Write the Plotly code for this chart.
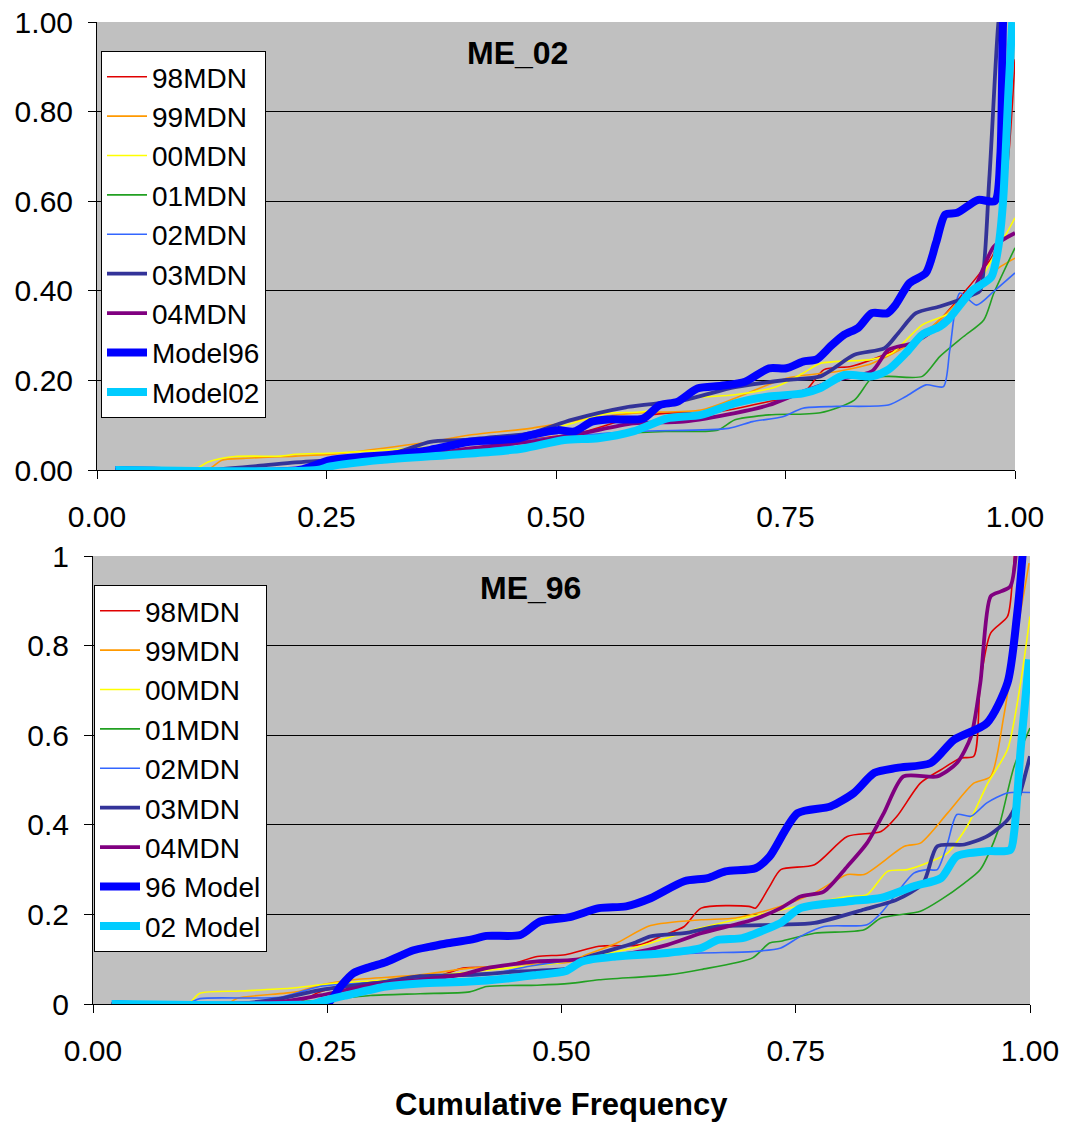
import plotly.graph_objects as go

# ---------------- data: ME_02 (top panel) ----------------
ME02_98_X = [0.02, 0.20, 0.25, 0.30, 0.35, 0.40, 0.45, 0.472, 0.53, 0.58, 0.621, 0.676, 0.732, 0.769, 0.792, 0.821, 0.844, 0.862, 0.892, 0.918, 0.944, 0.962, 0.977, 0.992, 1.0]
ME02_98_Y = [0, 0, 0.01, 0.02, 0.03, 0.04, 0.055, 0.067, 0.085, 0.115, 0.127, 0.13, 0.153, 0.171, 0.224, 0.231, 0.246, 0.261, 0.29, 0.335, 0.395, 0.44, 0.484, 0.678, 0.917]

ME02_99_X = [0.02, 0.12, 0.136, 0.16, 0.216, 0.26, 0.363, 0.406, 0.472, 0.528, 0.584, 0.658, 0.695, 0.751, 0.806, 0.844, 0.881, 0.918, 0.945, 0.96, 0.985, 1.0]
ME02_99_Y = [0, 0, 0.022, 0.026, 0.031, 0.036, 0.063, 0.078, 0.093, 0.112, 0.127, 0.134, 0.160, 0.205, 0.22, 0.238, 0.276, 0.335, 0.39, 0.415, 0.455, 0.473]

ME02_00_X = [0.02, 0.105, 0.121, 0.15, 0.20, 0.216, 0.26, 0.34, 0.40, 0.472, 0.517, 0.558, 0.595, 0.647, 0.695, 0.74, 0.769, 0.788, 0.844, 0.866, 0.899, 0.929, 0.955, 0.985, 1.0]
ME02_00_Y = [0, 0, 0.018, 0.03, 0.031, 0.035, 0.038, 0.048, 0.058, 0.082, 0.104, 0.127, 0.130, 0.160, 0.168, 0.186, 0.216, 0.238, 0.247, 0.261, 0.324, 0.35, 0.402, 0.507, 0.563]

ME02_01_X = [0.02, 0.18, 0.22, 0.30, 0.40, 0.472, 0.546, 0.621, 0.676, 0.695, 0.732, 0.788, 0.825, 0.844, 0.862, 0.899, 0.918, 0.944, 0.966, 0.977, 1.0]
ME02_01_Y = [0, 0, 0.005, 0.015, 0.035, 0.056, 0.078, 0.086, 0.089, 0.112, 0.123, 0.128, 0.156, 0.205, 0.209, 0.209, 0.253, 0.298, 0.335, 0.395, 0.496]

ME02_02_X = [0.02, 0.18, 0.25, 0.35, 0.45, 0.472, 0.584, 0.688, 0.714, 0.747, 0.769, 0.806, 0.862, 0.881, 0.903, 0.922, 0.929, 0.94, 0.958, 0.977, 1.0]
ME02_02_Y = [0, 0, 0.01, 0.03, 0.055, 0.067, 0.086, 0.093, 0.108, 0.119, 0.138, 0.142, 0.145, 0.164, 0.19, 0.186, 0.268, 0.395, 0.368, 0.399, 0.44]

ME02_03_X = [0.02, 0.12, 0.175, 0.216, 0.26, 0.327, 0.363, 0.399, 0.435, 0.472, 0.517, 0.576, 0.639, 0.695, 0.751, 0.788, 0.825, 0.858, 0.873, 0.892, 0.918, 0.940, 0.955, 0.962, 0.972, 0.982, 0.986]
ME02_03_Y = [0, 0, 0.009, 0.017, 0.023, 0.04, 0.063, 0.067, 0.074, 0.082, 0.112, 0.140, 0.156, 0.185, 0.201, 0.209, 0.257, 0.272, 0.306, 0.35, 0.365, 0.38, 0.392, 0.40, 0.65, 1.0, 1.05]

ME02_04_X = [0.02, 0.20, 0.26, 0.345, 0.406, 0.457, 0.472, 0.528, 0.584, 0.639, 0.695, 0.732, 0.769, 0.806, 0.844, 0.862, 0.888, 0.907, 0.936, 0.955, 0.977, 1.0]
ME02_04_Y = [0, 0, 0.01, 0.03, 0.048, 0.06, 0.063, 0.082, 0.104, 0.108, 0.127, 0.145, 0.175, 0.201, 0.22, 0.268, 0.283, 0.306, 0.358, 0.402, 0.499, 0.529]

ME02_M96_X = [0.02, 0.22, 0.254, 0.327, 0.363, 0.406, 0.457, 0.472, 0.502, 0.520, 0.539, 0.558, 0.595, 0.613, 0.632, 0.654, 0.680, 0.706, 0.732, 0.751, 0.769, 0.784, 0.799, 0.814, 0.829, 0.844, 0.861, 0.870, 0.885, 0.903, 0.914, 0.924, 0.937, 0.960, 0.978, 0.984, 0.987, 0.99]
ME02_M96_Y = [0, 0, 0.022, 0.035, 0.045, 0.063, 0.07, 0.078, 0.089, 0.086, 0.108, 0.113, 0.115, 0.145, 0.152, 0.182, 0.188, 0.197, 0.227, 0.227, 0.242, 0.247, 0.276, 0.302, 0.317, 0.350, 0.350, 0.369, 0.417, 0.440, 0.507, 0.570, 0.574, 0.603, 0.60, 0.70, 1.0, 1.1]

ME02_M02_X = [0.02, 0.24, 0.254, 0.308, 0.381, 0.428, 0.464, 0.509, 0.546, 0.584, 0.621, 0.658, 0.695, 0.732, 0.769, 0.788, 0.814, 0.844, 0.862, 0.881, 0.899, 0.918, 0.927, 0.953, 0.974, 0.982, 0.987, 0.993, 0.997]
ME02_M02_Y = [0, 0, 0.008, 0.022, 0.033, 0.04, 0.048, 0.067, 0.071, 0.086, 0.115, 0.123, 0.149, 0.164, 0.171, 0.183, 0.212, 0.209, 0.224, 0.261, 0.302, 0.32, 0.335, 0.40, 0.43, 0.50, 0.60, 0.85, 1.0]

# ---------------- data: ME_96 (bottom panel) ----------------
ME96_98_X = [0.02, 0.22, 0.242, 0.313, 0.367, 0.395, 0.438, 0.474, 0.504, 0.54, 0.584, 0.606, 0.631, 0.649, 0.70, 0.707, 0.722, 0.734, 0.77, 0.805, 0.841, 0.858, 0.883, 0.905, 0.926, 0.94, 0.947, 0.958, 0.976, 0.981, 0.985]
ME96_98_Y = [0, 0.005, 0.027, 0.054, 0.062, 0.080, 0.084, 0.106, 0.11, 0.129, 0.132, 0.151, 0.173, 0.214, 0.218, 0.214, 0.262, 0.30, 0.311, 0.374, 0.385, 0.419, 0.493, 0.523, 0.549, 0.553, 0.717, 0.828, 0.865, 0.94, 1.05]

ME96_99_X = [0.02, 0.143, 0.154, 0.217, 0.242, 0.278, 0.349, 0.402, 0.448, 0.509, 0.522, 0.558, 0.595, 0.649, 0.686, 0.734, 0.77, 0.805, 0.823, 0.866, 0.883, 0.912, 0.94, 0.958, 0.972, 0.986, 0.999]
ME96_99_Y = [0, 0, 0.013, 0.027, 0.042, 0.054, 0.065, 0.08, 0.087, 0.094, 0.106, 0.135, 0.175, 0.188, 0.192, 0.218, 0.248, 0.289, 0.289, 0.352, 0.359, 0.426, 0.493, 0.508, 0.642, 0.828, 0.984]

ME96_00_X = [0.02, 0.101, 0.114, 0.157, 0.21, 0.253, 0.313, 0.385, 0.442, 0.498, 0.576, 0.649, 0.734, 0.805, 0.826, 0.848, 0.869, 0.894, 0.912, 0.933, 0.955, 0.976, 0.99, 1.0]
ME96_00_Y = [0, 0, 0.024, 0.029, 0.035, 0.045, 0.054, 0.068, 0.08, 0.092, 0.125, 0.17, 0.21, 0.24, 0.244, 0.296, 0.30, 0.318, 0.337, 0.397, 0.493, 0.568, 0.717, 0.865]

ME96_01_X = [0.02, 0.22, 0.242, 0.296, 0.349, 0.402, 0.42, 0.474, 0.509, 0.54, 0.613, 0.649, 0.704, 0.722, 0.734, 0.77, 0.823, 0.841, 0.883, 0.905, 0.93, 0.947, 0.965, 0.983, 1.0]
ME96_01_Y = [0, 0.005, 0.008, 0.019, 0.023, 0.027, 0.039, 0.042, 0.046, 0.054, 0.065, 0.077, 0.103, 0.136, 0.14, 0.158, 0.166, 0.192, 0.207, 0.233, 0.27, 0.30, 0.382, 0.53, 0.616]

ME96_02_X = [0.02, 0.10, 0.114, 0.20, 0.242, 0.313, 0.367, 0.42, 0.467, 0.54, 0.649, 0.704, 0.734, 0.755, 0.78, 0.826, 0.841, 0.876, 0.89, 0.901, 0.912, 0.922, 0.937, 0.954, 0.976, 1.0]
ME96_02_Y = [0, 0, 0.012, 0.015, 0.039, 0.05, 0.062, 0.065, 0.085, 0.103, 0.114, 0.117, 0.125, 0.151, 0.173, 0.177, 0.203, 0.292, 0.30, 0.30, 0.359, 0.423, 0.419, 0.449, 0.471, 0.472]

ME96_03_X = [0.02, 0.15, 0.2, 0.242, 0.313, 0.349, 0.402, 0.456, 0.509, 0.522, 0.576, 0.595, 0.631, 0.667, 0.734, 0.77, 0.823, 0.858, 0.886, 0.901, 0.93, 0.954, 0.976, 0.986, 1.0]
ME96_03_Y = [0, 0, 0.012, 0.031, 0.05, 0.062, 0.065, 0.073, 0.08, 0.10, 0.135, 0.151, 0.158, 0.173, 0.177, 0.181, 0.211, 0.233, 0.27, 0.352, 0.356, 0.374, 0.411, 0.449, 0.553]

ME96_04_X = [0.02, 0.20, 0.242, 0.296, 0.349, 0.392, 0.42, 0.474, 0.509, 0.576, 0.613, 0.649, 0.704, 0.734, 0.755, 0.78, 0.805, 0.826, 0.844, 0.865, 0.901, 0.922, 0.937, 0.947, 0.958, 0.969, 0.979, 0.986]
ME96_04_Y = [0, 0.005, 0.019, 0.042, 0.054, 0.065, 0.08, 0.095, 0.098, 0.114, 0.132, 0.158, 0.188, 0.214, 0.24, 0.251, 0.307, 0.359, 0.426, 0.508, 0.508, 0.538, 0.597, 0.717, 0.91, 0.921, 0.932, 1.03]

ME96_M96_X = [0.02, 0.249, 0.264, 0.278, 0.296, 0.313, 0.342, 0.36, 0.377, 0.402, 0.42, 0.456, 0.477, 0.509, 0.54, 0.569, 0.595, 0.631, 0.656, 0.675, 0.707, 0.722, 0.752, 0.787, 0.812, 0.834, 0.858, 0.894, 0.919, 0.954, 0.976, 0.986, 0.992, 0.995]
ME96_M96_Y = [0, 0, 0.039, 0.069, 0.083, 0.094, 0.12, 0.128, 0.135, 0.143, 0.152, 0.154, 0.184, 0.194, 0.214, 0.218, 0.236, 0.274, 0.281, 0.296, 0.303, 0.329, 0.426, 0.441, 0.471, 0.516, 0.527, 0.538, 0.59, 0.627, 0.717, 0.865, 1.0, 1.1]

ME96_M02_X = [0.02, 0.235, 0.242, 0.27, 0.313, 0.349, 0.402, 0.442, 0.474, 0.504, 0.522, 0.558, 0.613, 0.649, 0.667, 0.693, 0.722, 0.734, 0.755, 0.805, 0.841, 0.876, 0.905, 0.922, 0.954, 0.979, 0.983, 0.99, 0.999]
ME96_M02_Y = [0, 0, 0.005, 0.019, 0.039, 0.046, 0.05, 0.057, 0.065, 0.073, 0.095, 0.106, 0.114, 0.125, 0.143, 0.147, 0.17, 0.181, 0.214, 0.229, 0.237, 0.263, 0.281, 0.33, 0.341, 0.344, 0.382, 0.568, 0.769]

TOP_NAMES = ["98MDN", "99MDN", "00MDN", "01MDN", "02MDN", "03MDN", "04MDN", "Model96", "Model02"]
BOTTOM_NAMES = ["98MDN", "99MDN", "00MDN", "01MDN", "02MDN", "03MDN", "04MDN", "96 Model", "02 Model"]

X_TICKVALS = [0, 0.25, 0.5, 0.75, 1.0]
X_TICKTEXT = ["0.00", "0.25", "0.50", "0.75", "1.00"]
Y_TICKVALS = [0, 0.2, 0.4, 0.6, 0.8, 1.0]
TOP_Y_TICKTEXT = ["0.00", "0.20", "0.40", "0.60", "0.80", "1.00"]
BOTTOM_Y_TICKTEXT = ["0", "0.2", "0.4", "0.6", "0.8", "1"]

COLORS = ["#E00000", "#FF9900", "#FFFF00", "#22A022", "#3366FF", "#333399", "#800080", "#0000FF", "#00CCFF"]
WIDTHS = [1.6, 1.6, 1.6, 1.6, 1.6, 3.8, 3.8, 8, 8]

top_series = [(ME02_98_X, ME02_98_Y), (ME02_99_X, ME02_99_Y), (ME02_00_X, ME02_00_Y),
              (ME02_01_X, ME02_01_Y), (ME02_02_X, ME02_02_Y), (ME02_03_X, ME02_03_Y),
              (ME02_04_X, ME02_04_Y), (ME02_M96_X, ME02_M96_Y), (ME02_M02_X, ME02_M02_Y)]
bottom_series = [(ME96_98_X, ME96_98_Y), (ME96_99_X, ME96_99_Y), (ME96_00_X, ME96_00_Y),
                 (ME96_01_X, ME96_01_Y), (ME96_02_X, ME96_02_Y), (ME96_03_X, ME96_03_Y),
                 (ME96_04_X, ME96_04_Y), (ME96_M96_X, ME96_M96_Y), (ME96_M02_X, ME96_M02_Y)]

FONT = "Liberation Sans, Arial, sans-serif"
W, H = 1065, 1122

fig = go.Figure()
for i, (xs, ys) in enumerate(top_series):
    fig.add_trace(go.Scatter(x=xs, y=ys, mode="lines", name=TOP_NAMES[i],
                             line=dict(color=COLORS[i], width=WIDTHS[i], shape="spline", smoothing=0.7),
                             xaxis="x", yaxis="y", legend="legend"))
for i, (xs, ys) in enumerate(bottom_series):
    fig.add_trace(go.Scatter(x=xs, y=ys, mode="lines", name=BOTTOM_NAMES[i],
                             line=dict(color=COLORS[i], width=WIDTHS[i], shape="spline", smoothing=0.7),
                             xaxis="x2", yaxis="y2", legend="legend2"))

def xaxis_cfg(domain, anchor):
    return dict(domain=domain, anchor=anchor, range=[0, 1], tickvals=X_TICKVALS, ticktext=X_TICKTEXT,
                ticks="outside", ticklen=8, tickcolor="#000", tickwidth=1,
                showline=True, linecolor="#000", linewidth=1, showgrid=False, zeroline=False,
                tickfont=dict(family=FONT, size=30, color="#000"), ticklabelstandoff=12,
                automargin=False, fixedrange=True)

def yaxis_cfg(domain, anchor, ticktext):
    return dict(domain=domain, anchor=anchor, range=[0, 1], tickvals=Y_TICKVALS, ticktext=ticktext,
                ticks="outside", ticklen=8, tickcolor="#000", tickwidth=1,
                showline=True, linecolor="#000", linewidth=1, showgrid=True, gridcolor="#000",
                gridwidth=1, zeroline=False,
                tickfont=dict(family=FONT, size=30, color="#000"), ticklabelstandoff=9,
                automargin=False, fixedrange=True)

legend_common = dict(bgcolor="#FFFFFF", bordercolor="#000", borderwidth=1,
                     font=dict(family=FONT, size=28, color="#000"),
                     xanchor="left", yanchor="top", itemwidth=40, tracegroupgap=0)

fig.update_layout(
    template="none",
    width=W, height=H, autosize=False,
    margin=dict(l=0, r=0, t=0, b=0, pad=0, autoexpand=False),
    paper_bgcolor="#FFFFFF", plot_bgcolor="#C0C0C0",
    xaxis=xaxis_cfg([97 / W, 1015 / W], "y"),
    yaxis=yaxis_cfg([(H - 470) / H, (H - 22) / H], "x", TOP_Y_TICKTEXT),
    xaxis2=xaxis_cfg([93 / W, 1030 / W], "y2"),
    yaxis2=yaxis_cfg([(H - 1004) / H, (H - 556) / H], "x2", BOTTOM_Y_TICKTEXT),
    legend=dict(x=101 / W, y=(H - 51) / H, **legend_common),
    legend2=dict(x=94 / W, y=(H - 585) / H, **legend_common),
    showlegend=True,
    annotations=[
        dict(text="<b>ME_02</b>", x=517 / W, y=(H - 53) / H, xref="paper", yref="paper",
             showarrow=False, font=dict(family=FONT, size=32, color="#000"), xanchor="center", yanchor="middle"),
        dict(text="<b>ME_96</b>", x=530 / W, y=(H - 588) / H, xref="paper", yref="paper",
             showarrow=False, font=dict(family=FONT, size=32, color="#000"), xanchor="center", yanchor="middle"),
        dict(text="<b>Cumulative Frequency</b>", x=561 / W, y=(H - 1104) / H, xref="paper", yref="paper",
             showarrow=False, font=dict(family=FONT, size=31, color="#000"), xanchor="center", yanchor="middle"),
    ],
)

fig.write_html("out.html")
